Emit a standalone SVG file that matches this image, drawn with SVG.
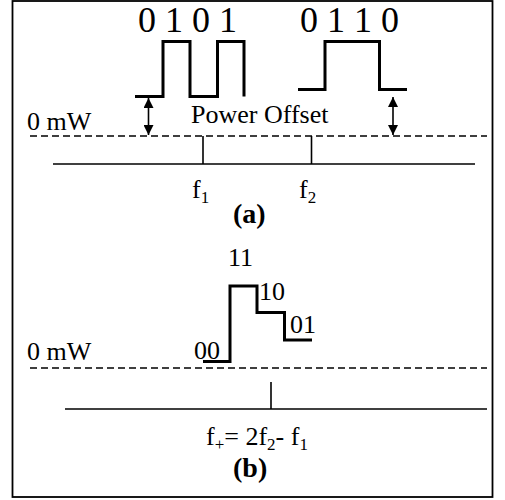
<svg xmlns="http://www.w3.org/2000/svg" width="505" height="500" viewBox="0 0 505 500">
<style>
text{font-family:"Liberation Serif","Times New Roman",serif;fill:#000}
.dig{font-size:36px}
.lbl{font-size:26px}
.sub{font-size:17px}
.cap{font-size:28px;font-weight:bold}
.wave{fill:none;stroke:#000;stroke-width:3;stroke-linejoin:miter}
.axis{fill:none;stroke:#000;stroke-width:1.6}
.dash{fill:none;stroke:#000;stroke-width:1.6;stroke-dasharray:7,4}
.arr{fill:none;stroke:#000;stroke-width:1.6;marker-start:url(#ah);marker-end:url(#ah)}
</style>
<defs>
<marker id="ah" viewBox="0 0 10 10" refX="10" refY="5" markerWidth="11" markerHeight="10" markerUnits="userSpaceOnUse" orient="auto-start-reverse">
<path d="M0,0 L10,5 L0,10 Z" fill="#000"/>
</marker>
</defs>
<rect x="12.5" y="1" width="480" height="496" fill="#fff" stroke="#000" stroke-width="1.8"/>
<g id="panel-a">
<g id="bits-0101"><text class="dig" x="138" y="32">0 1 0 1</text></g>
<g id="bits-0110"><text class="dig" x="300" y="32">0 1 1 0</text></g>
<g id="wave-f1"><polyline class="wave" points="135,96.5 163,96.5 163,41.5 190,41.5 190,96.5 217.5,96.5 217.5,41.5 244,41.5 244,96.5"/></g>
<g id="wave-f2"><polyline class="wave" points="298,89.5 325,89.5 325,41.5 379.5,41.5 379.5,89.5 407,89.5"/></g>
<g id="label-0mw-a"><text class="lbl" x="27" y="130">0 mW</text></g>
<g id="label-offset"><text class="lbl" x="191" y="123">Power Offset</text></g>
<g id="label-f1"><text class="lbl" x="192" y="198">f<tspan class="sub" dy="5">1</tspan></text></g>
<g id="label-f2"><text class="lbl" x="299" y="198">f<tspan class="sub" dy="5">2</tspan></text></g>
<g id="caption-a"><text class="cap" x="233" y="223">(a)</text></g>
</g>
<g id="panel-b">
<g id="label-11"><text class="lbl" x="228" y="266">11</text></g>
<g id="label-10"><text class="lbl" x="259" y="300">10</text></g>
<g id="label-01"><text class="lbl" x="290" y="333">01</text></g>
<g id="label-00"><text class="lbl" x="194" y="359">00</text></g>
<g id="wave-b"><polyline class="wave" points="203,361.5 230,361.5 230,286 257,286 257,312.5 284.5,312.5 284.5,340 312,340"/></g>
<g id="label-0mw-b"><text class="lbl" x="27" y="360">0 mW</text></g>
<g id="label-fplus"><text class="lbl" x="206" y="445">f<tspan class="sub" dy="5">+</tspan><tspan dy="-5">= 2f</tspan><tspan class="sub" dy="5">2</tspan><tspan dy="-5">- f</tspan><tspan class="sub" dy="5">1</tspan></text></g>
<g id="caption-b"><text class="cap" x="233" y="477">(b)</text></g>
</g>
<g id="connectors">
<line class="dash" x1="30" y1="136" x2="487" y2="136"/>
<line class="axis" x1="53" y1="164" x2="475" y2="164"/>
<line class="axis" x1="203" y1="136" x2="203" y2="164"/>
<line class="axis" x1="311.5" y1="136" x2="311.5" y2="164"/>
<line class="arr" x1="148.5" y1="98" x2="148.5" y2="135"/>
<line class="arr" x1="393" y1="97" x2="393" y2="135"/>
<line class="dash" x1="30" y1="368" x2="487" y2="368"/>
<line class="axis" x1="65" y1="409" x2="487" y2="409"/>
<line class="axis" x1="271" y1="382" x2="271" y2="409"/>
</g>
</svg>
